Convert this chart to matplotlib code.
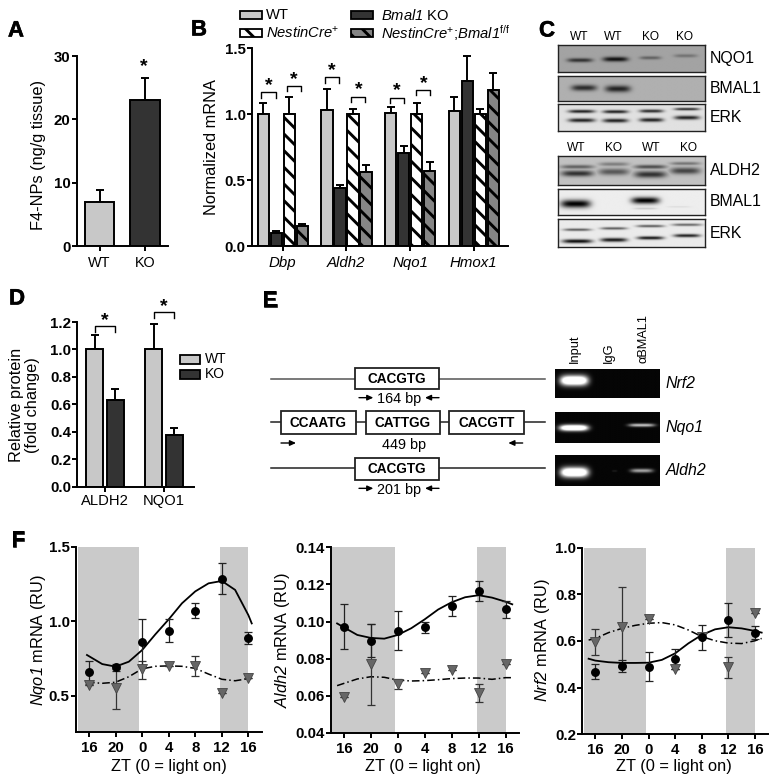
#!/usr/bin/env python3
from __future__ import annotations

import matplotlib

matplotlib.use("Agg")
import matplotlib.patheffects as pe
import matplotlib.pyplot as plt
import numpy as np
from matplotlib.patches import Rectangle

WIDTH, HEIGHT = 779, 784
LIGHT = "#c8c8c8"
DARK = "#333333"
MID = "#858585"
SHADE = "#cacaca"

# panel A
a_labels = ["WT", "KO"]
a_values = [7.0, 23.0]
a_tops = [8.8, 26.6]

# panel B
b_genes = ["Dbp", "Aldh2", "Nqo1", "Hmox1"]
b_wt = [1.0, 1.03, 1.005, 1.02]
b_wt_top = [1.08, 1.19, 1.05, 1.13]
b_ko = [0.10, 0.44, 0.707, 1.25]
b_ko_top = [0.11, 0.46, 0.755, 1.44]
b_cre = [1.0, 1.0, 1.0, 1.0]
b_cre_top = [1.13, 1.04, 1.085, 1.04]
b_flox = [0.15, 0.56, 0.565, 1.18]
b_flox_top = [0.17, 0.61, 0.64, 1.31]

# panel D
d_labels = ["ALDH2", "NQO1"]
d_wt = [1.0, 1.0]
d_wt_top = [1.105, 1.185]
d_ko = [0.635, 0.38]
d_ko_top = [0.714, 0.428]

# panel F, hours relative to light on
zt_hours = [-8, -4, 0, 4, 8, 12, 16]
zt_labels = ["16", "20", "0", "4", "8", "12", "16"]
dark_spans = [(-9.7, -0.4), (11.7, 16.0)]

nqo1_wt = [0.657, 0.69, 0.858, 0.936, 1.07, 1.28, 0.885]
nqo1_wt_hi = [0.73, 0.715, 1.017, 1.012, 1.124, 1.39, 0.925]
nqo1_wt_lo = [0.58, 0.665, 0.70, 0.86, 1.02, 1.185, 0.845]
nqo1_ko = [0.574, 0.55, 0.677, 0.70, 0.70, 0.52, 0.62]
nqo1_ko_hi = [0.574, 0.68, 0.73, 0.70, 0.764, 0.52, 0.62]
nqo1_ko_lo = [0.574, 0.41, 0.61, 0.70, 0.635, 0.52, 0.62]
nqo1_fit_x = [-8.3, -6, -4, -2, 0, 2, 4, 6, 8, 10, 12, 14, 16, 16.5]
nqo1_fit_wt = [0.773, 0.712, 0.695, 0.728, 0.806, 0.912, 1.012, 1.12, 1.20, 1.254, 1.27, 1.21, 1.04, 0.985]
nqo1_fit_ko = [0.59, 0.583, 0.59, 0.627, 0.68, 0.697, 0.70, 0.697, 0.683, 0.645, 0.61, 0.60, 0.614, 0.616]

aldh2_wt = [0.0973, 0.0897, 0.0951, 0.0969, 0.1084, 0.1165, 0.1066]
aldh2_wt_hi = [0.1095, 0.0985, 0.1059, 0.100, 0.1136, 0.1217, 0.111]
aldh2_wt_lo = [0.0852, 0.081, 0.0845, 0.0937, 0.103, 0.1113, 0.1018]
aldh2_ko = [0.0596, 0.0772, 0.0666, 0.0723, 0.0738, 0.0617, 0.0772]
aldh2_ko_hi = [0.0596, 0.0985, 0.069, 0.0723, 0.0738, 0.0662, 0.0772]
aldh2_ko_lo = [0.0596, 0.0549, 0.0637, 0.0723, 0.0738, 0.0567, 0.0772]
aldh2_fit_x = [-9, -8, -6, -4, -2, 0, 2, 4, 6, 8, 10, 12, 14, 16, 17]
aldh2_fit_wt = [0.099, 0.0969, 0.0928, 0.0912, 0.0908, 0.0928, 0.0964, 0.1012, 0.1065, 0.1104, 0.1131, 0.1142, 0.1129, 0.1107, 0.1093]
aldh2_fit_ko = [0.0655, 0.0667, 0.0691, 0.0703, 0.07, 0.0685, 0.068, 0.0682, 0.0687, 0.0693, 0.0696, 0.0696, 0.0689, 0.0698, 0.0698]

nrf2_wt = [0.469, 0.493, 0.489, 0.521, 0.619, 0.69, 0.633]
nrf2_wt_hi = [0.50, 0.52, 0.551, 0.566, 0.67, 0.764, 0.663]
nrf2_wt_lo = [0.437, 0.469, 0.427, 0.48, 0.563, 0.619, 0.609]
nrf2_ko = [0.597, 0.661, 0.696, 0.479, 0.619, 0.487, 0.72]
nrf2_ko_hi = [0.65, 0.83, 0.696, 0.479, 0.619, 0.53, 0.72]
nrf2_ko_lo = [0.54, 0.49, 0.696, 0.479, 0.619, 0.44, 0.72]
nrf2_fit_x = [-9, -8, -6, -4, -2, 0, 2, 4, 6, 8, 10, 12, 14, 16, 17]
nrf2_fit_wt = [0.524, 0.516, 0.509, 0.506, 0.506, 0.507, 0.519, 0.547, 0.59, 0.626, 0.65, 0.659, 0.654, 0.643, 0.636]
nrf2_fit_ko = [0.604, 0.611, 0.636, 0.654, 0.667, 0.676, 0.679, 0.669, 0.647, 0.619, 0.601, 0.591, 0.589, 0.601, 0.611]

# western blot bands: centre x, centre y, half width, half height, strength
blot_names = ["NQO1", "BMAL1", "ERK", "ALDH2", "BMAL1", "ERK"]
blot_rows = [(106, 187), (198, 272), (283, 364), (438, 524), (536, 616), (628, 712)]
blot_backgrounds = [0.64, 0.69, 0.88, 0.76, 0.93, 0.92]
blot_bands = [
    [(148, 153, 38, 6, 0.7), (255, 150, 38, 7, 0.9), (360, 146, 32, 5, 0.4), (466, 140, 35, 5, 0.3)],
    [(160, 233, 38, 9, 0.75), (262, 236, 38, 10, 0.8)],
    [(153, 305, 40, 5, 0.85), (153, 332, 40, 6, 0.85), (255, 306, 38, 5, 0.85), (255, 333, 38, 6, 0.85),
     (363, 304, 36, 5, 0.8), (363, 331, 36, 6, 0.85), (470, 298, 38, 4, 0.8), (470, 324, 38, 6, 0.85)],
    [(140, 470, 50, 6, 0.5), (140, 490, 48, 9, 0.75), (250, 462, 45, 6, 0.35), (250, 485, 46, 10, 0.55),
     (360, 470, 48, 6, 0.6), (360, 493, 48, 10, 0.75), (465, 460, 45, 5, 0.4), (465, 482, 45, 10, 0.65)],
    [(135, 583, 45, 12, 1.0), (345, 573, 42, 10, 1.0), (345, 597, 35, 3, 0.15), (445, 592, 35, 2, 0.08)],
    [(140, 660, 42, 4, 0.6), (140, 695, 45, 6, 0.95), (250, 656, 40, 4, 0.6), (250, 691, 40, 6, 0.9),
     (360, 649, 42, 4, 0.6), (360, 685, 40, 5, 0.9), (470, 645, 45, 4, 0.55), (470, 678, 40, 5, 0.85)],
]

# ChIP gel bands, same layout
gel_names = ["Nrf2", "Nqo1", "Aldh2"]
gel_rows = [(206, 295), (335, 430), (465, 558)]
gel_bands = [
    [(942, 243, 42, 15, 1.0)],
    [(941, 385, 43, 9, 1.0), (1146, 377, 40, 5, 0.5)],
    [(943, 517, 42, 15, 1.0), (1064, 513, 8, 3, 0.06), (1146, 512, 34, 6, 0.42)],
]

plt.rcParams["font.family"] = ["Liberation Sans", "DejaVu Sans"]
plt.rcParams["mathtext.fontset"] = "custom"
# \mathrm gives italic digits too, plain text in the string stays regular
plt.rcParams["mathtext.rm"] = "Liberation Sans:italic"
plt.rcParams["mathtext.it"] = "Liberation Sans:italic"
plt.rcParams["mathtext.bf"] = "Liberation Sans:bold"
plt.rcParams["mathtext.default"] = "regular"
plt.rcParams["hatch.linewidth"] = 2.1
plt.rcParams["axes.linewidth"] = 1.4


def px_axes(fig, left, top, right, bottom, **kwargs):
    return fig.add_axes(
        [left / WIDTH, 1 - bottom / HEIGHT, (right - left) / WIDTH, (bottom - top) / HEIGHT],
        **kwargs,
    )


def style_axis(ax, tick_size=10.8):
    ax.spines[["top", "right"]].set_visible(False)
    ax.tick_params(axis="y", length=3.6, width=1.4, pad=1, labelsize=tick_size)
    ax.tick_params(axis="x", length=3.4, width=1.4)
    for label in ax.get_yticklabels():
        label.set_fontweight("bold")


def place_ylabel(ax, box, text, x_px, y_px, size=11.8):
    left, top, right, bottom = box
    ax.set_ylabel(text, fontsize=size, linespacing=1.05)
    ax.yaxis.label.set_verticalalignment("center")
    ax.yaxis.set_label_coords((x_px - left) / (right - left), (bottom - y_px) / (bottom - top))


def bars_with_tops(ax, xs, values, tops, width, color, hatch=None):
    ax.bar(xs, values, width, color=color, edgecolor="black", linewidth=1.4, hatch=hatch, zorder=2)
    low = np.zeros(len(values))
    upper = np.array(tops) - np.array(values)
    ax.errorbar(xs, values, yerr=[low, upper], fmt="none", ecolor="black", elinewidth=1.4,
                capsize=2.8, capthick=1.4, zorder=1)


def draw_panel_a(fig):
    box = (77, 56, 168, 246)
    ax = px_axes(fig, *box)
    xs = np.arange(len(a_labels))
    bars_with_tops(ax, xs[:1], a_values[:1], a_tops[:1], 0.65, LIGHT)
    bars_with_tops(ax, xs[1:], a_values[1:], a_tops[1:], 0.65, DARK)
    ax.set_xlim(-0.5, 1.508)
    ax.set_ylim(0, 30)
    ax.set_yticks([0, 10, 20, 30])
    ax.set_xticks(xs, a_labels, fontsize=10.4)
    style_axis(ax)
    ax.tick_params(axis="x", pad=4)
    place_ylabel(ax, box, "F4-NPs (ng/g tissue)", 39, 154.7)


def draw_panel_b(fig):
    box = (252, 48, 508, 246)
    ax = px_axes(fig, *box)
    xs = np.arange(len(b_genes))
    step = 0.204
    bars_with_tops(ax, xs - 1.5 * step, b_wt, b_wt_top, 0.178, LIGHT)
    bars_with_tops(ax, xs - 0.5 * step, b_ko, b_ko_top, 0.178, DARK)
    bars_with_tops(ax, xs + 0.5 * step, b_cre, b_cre_top, 0.178, "white", hatch="\\\\")
    bars_with_tops(ax, xs + 1.5 * step, b_flox, b_flox_top, 0.178, MID, hatch="\\\\")
    ax.set_xlim(-0.482, 3.537)
    ax.set_ylim(0, 1.5)
    ax.set_yticks([0, 0.5, 1.0, 1.5], ["0.0", "0.5", "1.0", "1.5"])
    ax.set_xticks(xs, b_genes, fontsize=10.8, fontstyle="italic")
    style_axis(ax)
    ax.tick_params(axis="x", pad=4)
    place_ylabel(ax, box, "Normalized mRNA", 211.7, 147)


def draw_panel_d(fig):
    box = (77.3, 322, 194, 486.7)
    ax = px_axes(fig, *box)
    xs = np.arange(len(d_labels))
    bars_with_tops(ax, xs - 0.173, d_wt, d_wt_top, 0.288, LIGHT)
    bars_with_tops(ax, xs + 0.173, d_ko, d_ko_top, 0.288, DARK)
    ax.set_xlim(-0.47, 1.508)
    ax.set_ylim(0, 1.2)
    ax.set_yticks([0, 0.2, 0.4, 0.6, 0.8, 1.0, 1.2], ["0.0", "0.2", "0.4", "0.6", "0.8", "1.0", "1.2"])
    ax.set_xticks(xs, d_labels, fontsize=10.6)
    style_axis(ax)
    ax.tick_params(axis="x", pad=2)
    place_ylabel(ax, box, "Relative protein\n(fold change)", 24.5, 405)


def draw_time_panel(fig, box, ylim, yticks, ylabels, gene, series, fits, label_x, center_x):
    ax = px_axes(fig, *box)
    wt, wt_hi, wt_lo, ko, ko_hi, ko_lo = series
    fit_x, fit_wt, fit_ko = fits
    for start, stop in dark_spans:
        ax.axvspan(start, stop, color=SHADE, lw=0, zorder=0)
    ax.plot(fit_x, fit_wt, color="black", lw=1.3, zorder=3)
    ax.plot(fit_x, fit_ko, color="black", lw=1.1, ls=(0, (5, 2, 1, 2)), zorder=3)
    ax.errorbar(zt_hours, ko, yerr=[np.array(ko) - ko_lo, np.array(ko_hi) - ko], fmt="none",
                ecolor="#333333", elinewidth=0.9, capsize=2.9, capthick=0.9, zorder=4)
    ax.errorbar(zt_hours, wt, yerr=[np.array(wt) - wt_lo, np.array(wt_hi) - wt], fmt="none",
                ecolor="#222222", elinewidth=0.9, capsize=2.9, capthick=0.9, zorder=4)
    ax.plot(zt_hours, ko, "v", ms=6.6, mfc="#666666", mec="#444444", mew=0.6, zorder=5)
    ax.plot(zt_hours, wt, "o", ms=5.4, color="black", zorder=6)
    ax.set_xlim(-9.95, 18.0)
    ax.set_ylim(*ylim)
    ax.set_yticks(yticks, ylabels)
    ax.set_xticks(zt_hours, zt_labels, fontsize=10.8, fontweight="bold")
    style_axis(ax)
    ax.tick_params(axis="x", pad=3)
    ax.set_xlabel("ZT (0 = light on)", fontsize=11.8, labelpad=1)
    left, top, right, bottom = box
    ax.xaxis.set_label_coords((center_x - left) / (right - left), -(767 - bottom) / (bottom - top))
    ax.xaxis.label.set_verticalalignment("center")
    place_ylabel(ax, box, rf"$\mathrm{{{gene}}}$ mRNA (RU)", label_x, 640)


def band_image(rows, cols, background, bands, dark_on_light=True):
    xx, yy = np.meshgrid(np.linspace(*cols, 160), np.linspace(*rows, 80))
    signal = np.zeros_like(xx)
    for cx, cy, half_w, half_h, strength in bands:
        profile = np.exp(-(((xx - cx) / half_w) ** 4) - ((yy - cy) / half_h) ** 2)
        signal = np.maximum(signal, strength * profile)
    if dark_on_light:
        return background * (1 - signal)
    return np.clip(background + 1.5 * signal, 0, 1)


def draw_blots(fig):
    cols = (83, 526)
    for name, rows, background, bands in zip(blot_names, blot_rows, blot_backgrounds, blot_bands):
        box = (530 + cols[0] / 3, 10 + rows[0] / 3, 530 + cols[1] / 3, 10 + rows[1] / 3)
        ax = px_axes(fig, *box)
        image = band_image(rows, cols, background, bands)
        ax.imshow(image, cmap="gray", vmin=0, vmax=1, aspect="auto")
        ax.set_xticks([])
        ax.set_yticks([])
        for spine in ax.spines.values():
            spine.set_linewidth(1.0)
            spine.set_color("#222222")
        fig.text(710 / WIDTH, 1 - (box[1] + box[3]) / 2 / HEIGHT, name, fontsize=11.4, va="center")


def draw_gels(fig):
    cols = (885, 1200)
    for name, rows, bands in zip(gel_names, gel_rows, gel_bands):
        box = (260 + cols[0] / 3, 300 + rows[0] / 3, 260 + cols[1] / 3, 300 + rows[1] / 3)
        ax = px_axes(fig, *box)
        ax.imshow(band_image(rows, cols, 0.02, bands, False), cmap="gray", vmin=0, vmax=1, aspect="auto")
        ax.axis("off")
        fig.text(666 / WIDTH, 1 - (box[1] + box[3]) / 2 / HEIGHT, name, fontsize=11.4, style="italic", va="center")


def overlay_axes(fig):
    ax = fig.add_axes([0, 0, 1, 1], facecolor="none", zorder=10)
    ax.set_xlim(0, WIDTH)
    ax.set_ylim(HEIGHT, 0)
    ax.axis("off")
    return ax


def bracket(ax, x0, x1, top, drop, star_y):
    ax.plot([x0, x0, x1, x1], [top + drop, top, top, top + drop], color="black", lw=1.0)
    ax.text((x0 + x1) / 2, star_y, "*", fontsize=14, fontweight="bold", ha="center", va="center")


def draw_annotations(ax):
    for letter, x, y in [("A", 16, 31), ("B", 199, 30), ("C", 547, 31), ("D", 17, 299), ("E", 270, 301), ("F", 18, 541)]:
        ax.text(x, y, letter, fontsize=16, fontweight="bold", ha="center", va="center",
                path_effects=[pe.withStroke(linewidth=0.4, foreground="black")])

    # star on panel A, brackets on B and D
    ax.text(144, 67, "*", fontsize=14, fontweight="bold", ha="center", va="center")
    for z0, z1, ztop, zstar in [(214, 257, 277, 252), (290, 333, 258, 234), (405, 448, 232, 207),
                                (484, 526, 290, 264), (599, 642, 293, 266), (679, 721, 270, 247)]:
        bracket(ax, 190 + z0 / 3, 190 + z1 / 3, ztop / 3, 5.3, zstar / 3 + 1.5)
    bracket(ax, 95.3, 115, 325.7, 6, 321)
    bracket(ax, 153.7, 173.7, 312, 5.7, 307)

    # legend of panel B
    for x, y, color, hatch, label in [
        (240, 11, LIGHT, None, "WT"),
        (240, 28.7, "white", "\\\\", r"$\mathrm{NestinCre}^{+}$"),
        (350.7, 11, DARK, None, r"$\mathrm{Bmal1}$ KO"),
        (350.7, 28.7, MID, "\\\\", r"$\mathrm{NestinCre}^{+};\!\mathrm{Bmal1}^{f/f}$"),
    ]:
        ax.add_patch(Rectangle((x, y), 22, 8, facecolor=color, edgecolor="black", lw=1.3, hatch=hatch))
        ax.text(x + (26 if x < 300 else 30), y + 4, label, fontsize=10.6, va="center")

    # legend of panel D
    for y, color, label in [(354.5, LIGHT, "WT"), (369.5, DARK, "KO")]:
        ax.add_patch(Rectangle((180, y), 20.5, 9.5, facecolor=color, edgecolor="black", lw=1.3))
        ax.text(205, y + 4.7, label, fontsize=10, va="center")

    # lane labels of the blots
    for x, label in zip([579, 613, 650.7, 685], ["WT", "WT", "KO", "KO"]):
        ax.text(x, 36.5, label, fontsize=8.6, ha="center", va="center")
    for x, label in zip([576.7, 613.7, 651.7, 688.3], ["WT", "KO", "WT", "KO"]):
        ax.text(x, 148, label, fontsize=8.6, ha="center", va="center")

    # lane labels of the gel
    for x, label in zip([575, 608.5, 643.5], ["Input", "IgG", "\u03b1BMAL1"]):
        ax.text(x, 362.7, label, fontsize=9.2, rotation=90, ha="center", va="bottom")

    # promoter schematic, in zoom coordinates of panel E
    def px(zx):
        return 260 + zx / 3

    def py(zy):
        return 300 + zy / 3

    def motif(z0, z1, ztop, zbot, label):
        ax.add_patch(Rectangle((px(z0), py(ztop)), (z1 - z0) / 3, (zbot - ztop) / 3, facecolor="white",
                               edgecolor="#222222", lw=1.3, zorder=3))
        ax.text(px((z0 + z1) / 2), py((ztop + zbot) / 2), label, fontsize=9.8, fontweight="bold",
                ha="center", va="center", zorder=4)

    def arrow(z0, z1, zy):
        ax.annotate("", xy=(px(z1), py(zy)), xytext=(px(z0), py(zy)),
                    arrowprops=dict(arrowstyle="-|>,head_length=0.35,head_width=0.16", lw=1.0, color="black",
                                    shrinkA=0, shrinkB=0))

    for zy, color in [(237, "#555555"), (366, "#222222"), (505, "#222222")]:
        ax.plot([px(33), px(855)], [py(zy), py(zy)], color=color, lw=1.1, zorder=1)
    motif(285, 537, 204, 268, "CACGTG")
    motif(63, 288, 334, 401, "CCAATG")
    motif(317, 540, 334, 401, "CATTGG")
    motif(568, 791, 334, 401, "CACGTT")
    motif(285, 537, 475, 540, "CACGTG")
    for z0, z1, zy in [(297, 340, 293), (537, 495, 293), (63, 108, 429), (788, 745, 429), (297, 340, 565), (537, 495, 565)]:
        arrow(z0, z1, zy)
    for zx, zy, label in [(417, 296, "164 bp"), (433, 435, "449 bp"), (417, 569, "201 bp")]:
        ax.text(px(zx), py(zy), label, fontsize=10.4, ha="center", va="center")


def main() -> None:
    fig = plt.figure(figsize=(WIDTH / 100, HEIGHT / 100), dpi=100)
    draw_panel_a(fig)
    draw_panel_b(fig)
    draw_panel_d(fig)
    draw_time_panel(fig, (76, 546.7, 261.7, 732.3), (0.254, 1.5), [0.5, 1.0, 1.5], ["0.5", "1.0", "1.5"], "Nqo1",
                    (nqo1_wt, nqo1_wt_hi, nqo1_wt_lo, nqo1_ko, nqo1_ko_hi, nqo1_ko_lo),
                    (nqo1_fit_x, nqo1_fit_wt, nqo1_fit_ko), 38, 169)
    draw_time_panel(fig, (330.7, 547.3, 519, 733), (0.04, 0.14), [0.04, 0.06, 0.08, 0.10, 0.12, 0.14],
                    ["0.04", "0.06", "0.08", "0.10", "0.12", "0.14"], "Aldh2",
                    (aldh2_wt, aldh2_wt_hi, aldh2_wt_lo, aldh2_ko, aldh2_ko_hi, aldh2_ko_lo),
                    (aldh2_fit_x, aldh2_fit_wt, aldh2_fit_ko), 282, 422.7)
    draw_time_panel(fig, (582.3, 547.7, 768.3, 734.3), (0.2, 1.0), [0.2, 0.4, 0.6, 0.8, 1.0],
                    ["0.2", "0.4", "0.6", "0.8", "1.0"], "Nrf2",
                    (nrf2_wt, nrf2_wt_hi, nrf2_wt_lo, nrf2_ko, nrf2_ko_hi, nrf2_ko_lo),
                    (nrf2_fit_x, nrf2_fit_wt, nrf2_fit_ko), 543, 674)
    draw_blots(fig)
    draw_gels(fig)
    draw_annotations(overlay_axes(fig))
    fig.savefig("out.png", dpi=100)


if __name__ == "__main__":
    main()
